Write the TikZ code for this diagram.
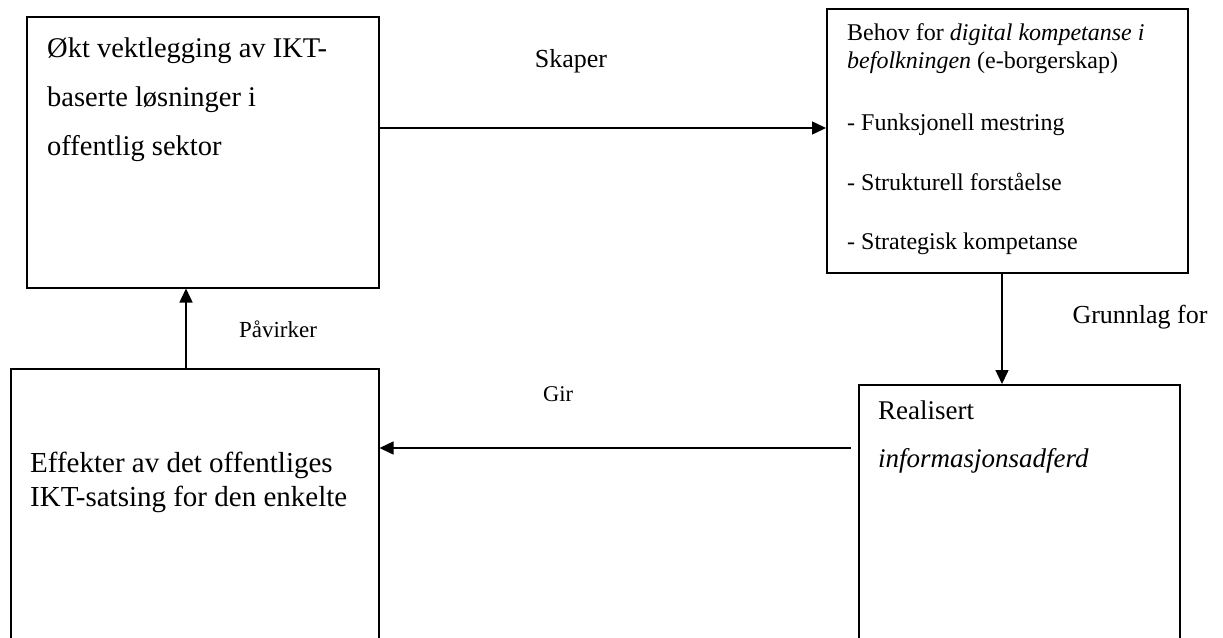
\documentclass[tikz,border=0pt]{standalone}
\usepackage{fontspec}
\setmainfont{Liberation Serif}
\usetikzlibrary{arrows.meta}
\begin{document}
\begin{tikzpicture}[x=1pt,y=-1pt,
  box/.style={draw,line width=1.5pt,rectangle,inner sep=0pt,anchor=north west},
  txt/.style={inner sep=0pt,anchor=base west},
  lbl/.style={inner sep=0pt,anchor=base},
  arr/.style={line width=1.5pt,-{Triangle[length=14pt,width=13pt]}}]
\useasboundingbox (0,0) rectangle (1223,637);
\clip (0,0) rectangle (1223,637);
% boxes
\node[box,minimum width=352pt,minimum height=271pt] (A) at (26,16) {};
\node[box,minimum width=361pt,minimum height=264pt] (B) at (826,8) {};
\node[box,minimum width=368pt,minimum height=300pt] (C) at (10,368) {};
\node[box,minimum width=321pt,minimum height=300pt] (D) at (858,384) {};
% box texts
\begin{scope}[font=\fontsize{28.5}{34}\selectfont]
\node[txt] (a1) at (47,57) {Økt vektlegging av IKT-};
\node[txt] (a2) at (47,106) {baserte løsninger i};
\node[txt] (a3) at (47,155) {offentlig sektor};
\end{scope}
\begin{scope}[font=\fontsize{24}{28}\selectfont]
\node[txt] (b1) at (847,40) {Behov for \textit{digital kompetanse i}};
\node[txt] (b2) at (847,68) {\textit{befolkningen} (e-borgerskap)};
\node[txt] (b3) at (847,130) {- Funksjonell mestring};
\node[txt] (b4) at (847,190) {- Strukturell forståelse};
\node[txt] (b5) at (847,249) {- Strategisk kompetanse};
\end{scope}
\begin{scope}[font=\fontsize{29}{34}\selectfont]
\node[txt] (c1) at (30,472) {Effekter av det offentliges};
\node[txt] (c2) at (30,506) {IKT-satsing for den enkelte};
\end{scope}
\begin{scope}[font=\fontsize{27}{32}\selectfont]
\node[txt] (d1) at (878,419) {Realisert};
\node[txt] (d2) at (878,467) {\textit{informasjonsadferd}};
\end{scope}
% labels
\node[lbl,font=\fontsize{26}{30}\selectfont] (skaper) at (571,67) {Skaper};
\node[lbl,font=\fontsize{22.5}{27}\selectfont] (gir) at (558,401) {Gir};
\node[lbl,font=\fontsize{23}{27}\selectfont] (pav) at (278,337) {Påvirker};
\node[lbl,font=\fontsize{26}{30}\selectfont] (grunn) at (1140,323) {Grunnlag for};
% connectors
\coordinate (p1) at (378,128);
\draw[arr] (p1) -- (p1 -| B.west);
\coordinate (p2) at (1002,272);
\draw[arr] (p2) -- (p2 |- D.north);
\coordinate (p3) at (851,448);
\draw[arr] (p3) -- (p3 -| C.east);
\coordinate (p4) at (186,368);
\draw[arr] (p4) -- (p4 |- A.south);
\end{tikzpicture}
\end{document}
